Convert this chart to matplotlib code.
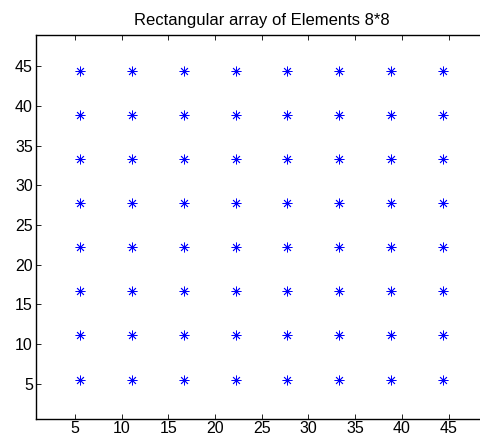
import matplotlib
matplotlib.use("Agg")
import matplotlib.pyplot as plt
import numpy as np

# element positions along each direction (same in x and y)
x_pos = [5.55, 11.1, 16.65, 22.2, 27.75, 33.3, 38.85, 44.4]
y_pos = [5.55, 11.1, 16.65, 22.2, 27.75, 33.3, 38.85, 44.4]
ticks = [5, 10, 15, 20, 25, 30, 35, 40, 45]
title = "Rectangular array of Elements 8*8"

plt.rcParams['font.family'] = ['Liberation Sans', 'DejaVu Sans']

fig = plt.figure(figsize=(4.81, 4.42), dpi=100)
ax = fig.add_axes([0.0742, 0.0527, 0.940, 0.868])

X, Y = np.meshgrid(x_pos, y_pos)
ax.plot(X.ravel(), Y.ravel(), linestyle='none', marker=(8, 2, 0),
        markersize=7, markeredgewidth=0.6, color='#0000ff')

ax.set_xlim(0.8, 49.2)
ax.set_ylim(0.62, 48.9)
ax.set_xticks(ticks)
ax.set_yticks(ticks)
ax.tick_params(direction='in', top=True, right=True, length=3.5, width=0.6,
               labelsize=11.5, pad=2)
for s in ax.spines.values():
    s.set_linewidth(1.0)

ax.set_title(title, fontsize=12, pad=7)

fig.savefig("out.png", dpi=100)
